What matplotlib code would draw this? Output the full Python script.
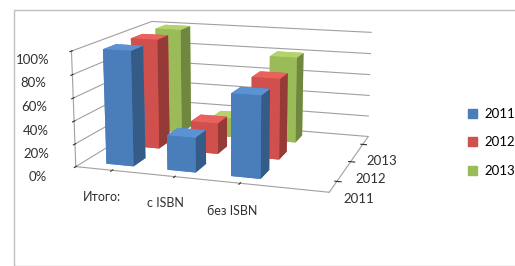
import matplotlib.pyplot as plt
import numpy as np
from matplotlib.colors import to_rgb
from matplotlib.patches import Rectangle, Patch

plt.rcParams['font.family'] = ['Lato', 'DejaVu Sans']

categories = ['Итого:', 'с ISBN', 'без ISBN']
years = ['2011', '2012', '2013']
v2011 = [100, 30, 70]
v2012 = [100, 28, 72]
v2013 = [100, 18, 80]
colors = ['#4a7ebb', '#d0504d', '#9bbb59']

fig = plt.figure(figsize=(5.15, 2.66), dpi=100)
fig.patches.append(Rectangle((14 / 515, 0), 1, 1 - 10 / 266, transform=fig.transFigure,
                             fill=False, edgecolor='#bfbfbf', linewidth=1))

ax = fig.add_axes([0.038, 0.01, 0.8, 1.22], projection='3d')
ax.set_proj_type('persp', focal_length=0.55)
ax.view_init(elev=13, azim=-72)
ax.set_box_aspect((3.3, 2.6, 1.5))


def face_colors(c):
    base = np.array(to_rgb(c))
    top = np.clip(base * 1.08 + 0.04, 0, 1)
    side = base * 0.72
    # bottom, top, front, back, left, right
    return [base, top, base, base, base, side]


xs, ys, zs, fcs = [], [], [], []
for j, vals in enumerate([v2011, v2012, v2013]):
    for i, v in enumerate(vals):
        xs.append(i)
        ys.append(j)
        zs.append(v)
        fcs.extend(face_colors(colors[j]))
w = 0.45
ax.bar3d(np.array(xs) - w / 2, np.array(ys) - w / 2, np.zeros(len(xs)), w, w, zs,
         color=fcs, shade=False, edgecolor='none')

ax.set_xlim(-0.6, 3.3)
ax.set_ylim(-0.5, 2.5)
ax.set_zlim(0, 100)
ax.set_xticks(range(3))
ax.set_xticklabels(categories, fontsize=9)
ax.set_yticks(range(3))
ax.set_yticklabels(years, fontsize=9.5)
ax.set_zticks(range(0, 101, 20))
ax.set_zticklabels([f'{t}%' for t in range(0, 101, 20)], fontsize=9.5)
ax.zaxis.set_ticks_position('lower')

for a in (ax.xaxis, ax.yaxis, ax.zaxis):
    a.set_pane_color((1, 1, 1, 0))
    a.pane.set_edgecolor('#a0a0a0')
    a.line.set_color('#a0a0a0')
ax.xaxis._axinfo['grid']['linewidth'] = 0
ax.yaxis._axinfo['grid']['linewidth'] = 0
ax.zaxis._axinfo['grid']['color'] = '#a0a0a0'
ax.zaxis._axinfo['grid']['linewidth'] = 0.8
ax.tick_params(axis='both', colors='#303030')
ax.tick_params(axis='z', pad=6)
ax.tick_params(axis='x', pad=6)
ax.tick_params(axis='y', pad=2)

handles = [Patch(color=c, label=y) for c, y in zip(colors, years)]
fig.legend(handles=handles, loc='center left', bbox_to_anchor=(0.909, 0.465), frameon=False,
           fontsize=9.5, handlelength=0.7, handleheight=0.7, handletextpad=0.5,
           labelspacing=1.25, borderaxespad=0, borderpad=0)

fig.savefig('out.png', dpi=100)
